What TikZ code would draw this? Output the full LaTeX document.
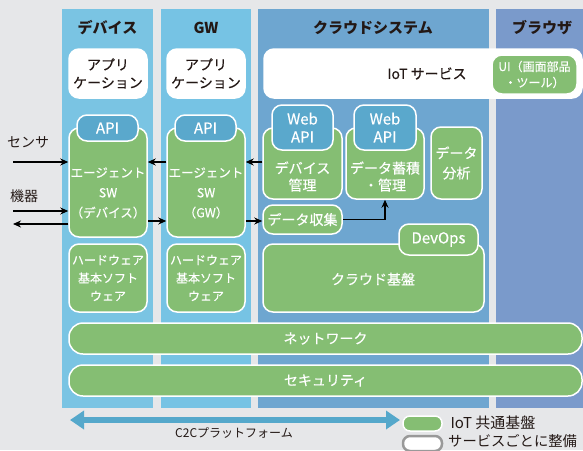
\documentclass[tikz,border=0pt]{standalone}
\usepackage{fontspec}
\setmainfont{Noto Sans CJK JP}
\newfontfamily\medfont{Noto Sans CJK JP}[FakeBold=0.35]
\usetikzlibrary{arrows.meta}
\definecolor{bgc}{HTML}{E6E7E9}
\definecolor{colDev}{HTML}{7AC4E3}
\definecolor{colGW}{HTML}{76C3E4}
\definecolor{colCloud}{HTML}{6EA6D0}
\definecolor{colBrow}{HTML}{7A9ACB}
\definecolor{grn}{HTML}{85BE73}
\definecolor{tabb}{HTML}{5AA8CC}
\definecolor{ink}{HTML}{231815}
\definecolor{c2cblue}{HTML}{55A8CB}
\tikzset{
  col/.style={draw=none, inner sep=0pt},
  head/.style={text=ink, font=\fontsize{15}{18}\selectfont\bfseries},
  wbox/.style={fill=white, draw=white, line width=1.5pt, rounded corners=10pt, inner sep=0pt, text=ink, align=center},
  gbox/.style={fill=grn, draw=white, line width=1.5pt, rounded corners=10pt, inner sep=0pt, text=white, align=center},
  tabbox/.style={fill=tabb, draw=white, line width=1.5pt, rounded corners=10pt, inner sep=0pt, text=white, align=center},
  wtxt/.style={text=white, align=center, inner sep=0pt},
  f14/.style={font=\medfont\fontsize{14}{18}\selectfont},
  f12/.style={font=\fontsize{12}{17}\selectfont},
  arr/.style={draw=black, line width=1.6pt, -{Stealth[length=8pt,width=7pt]}},
  c2c/.style={draw=c2cblue, line width=6pt, {Triangle[length=14pt,width=18pt]}-{Triangle[length=14pt,width=18pt]}},
}
\begin{document}
\begin{tikzpicture}[x=1pt,y=-1pt]
\useasboundingbox (0,0) rectangle (583,450);
\fill[bgc] (0,0) rectangle (583,450);

% columns
\node[col, fill=colDev, minimum width=91, minimum height=399] (colD) at (107.5,208.5) {};
\node[col, fill=colGW, minimum width=90, minimum height=399] (colG) at (206,208.5) {};
\node[col, fill=colCloud, minimum width=231, minimum height=399] (colC) at (373.5,208.5) {};
\node[col, fill=colBrow, minimum width=94, minimum height=399] (colB) at (543,208.5) {};

\node[head] (hD) at (107.5,28) {デバイス};
\node[head] (hG) at (206,28) {GW};
\node[head] (hC) at (373,28) {クラウドシステム};
\node[head] (hB) at (542,28) {ブラウザ};

% application boxes
\node[wbox, f14, minimum width=78, minimum height=49] (appD) at (108,73.5) {アプリ\\ケーション};
\node[wbox, f14, minimum width=78, minimum height=49] (appG) at (206,73.5) {アプリ\\ケーション};
\node[wbox, minimum width=318, minimum height=49] (iot) at (423,73.5) {};
\node[f14, text=ink] (iott) at (427,73.5) {IoT サービス};
\node[gbox, font=\medfont\fontsize{12}{16}\selectfont, minimum width=85, minimum height=39] (ui) at (534.5,74.5) {UI（画面部品\\・ツール）};

% agent boxes
\node[gbox, minimum width=78, minimum height=109] (agentD) at (108,182.5) {};
\node[wtxt, font=\medfont\fontsize{12.5}{20}\selectfont] (agentDt) at (108,193) {エージェント\\SW\\（デバイス）};
\node[tabbox, font=\medfont\fontsize{15}{16}\selectfont, minimum width=61, minimum height=26] (apiD) at (107.5,128) {API};
\node[gbox, minimum width=78, minimum height=109] (agentG) at (206,182.5) {};
\node[wtxt, font=\medfont\fontsize{12.5}{20}\selectfont] (agentGt) at (206,193) {エージェント\\SW\\（GW）};
\node[tabbox, font=\medfont\fontsize{15}{16}\selectfont, minimum width=61, minimum height=26] (apiG) at (205.5,128) {API};

% hardware
\node[gbox, font=\medfont\fontsize{12}{18}\selectfont, minimum width=78, minimum height=68] (hwD) at (108,278) {ハードウェア\\基本ソフト\\ウェア};
\node[gbox, font=\medfont\fontsize{12}{18}\selectfont, minimum width=78, minimum height=68] (hwG) at (206,278) {ハードウェア\\基本ソフト\\ウェア};

% cloud
\node[gbox, minimum width=79, minimum height=71] (devM) at (302.5,163.5) {};
\node[wtxt, font=\medfont\fontsize{14}{17}\selectfont] (devMt) at (302.5,176.5) {デバイス\\管理};
\node[tabbox, font=\medfont\fontsize{15}{18}\selectfont, minimum width=61, minimum height=45] (webA) at (302.5,127.5) {Web\\API};
\node[gbox, minimum width=78, minimum height=71] (store) at (385,163.5) {};
\node[wtxt, font=\medfont\fontsize{14}{17}\selectfont] (storet) at (385,176.5) {データ蓄積\\・管理};
\node[tabbox, font=\medfont\fontsize{15}{18}\selectfont, minimum width=62, minimum height=45] (webB) at (385,127.5) {Web\\API};
\node[gbox, font=\medfont\fontsize{14}{20}\selectfont, minimum width=51, minimum height=72] (anal) at (456.5,163) {データ\\分析};
\node[gbox, f14, minimum width=79, minimum height=29] (dataC) at (302.5,219.5) {データ収集};
\node[gbox, minimum width=221, minimum height=68] (base) at (373.5,278) {};
\node[wtxt, f14] (baset) at (373,279) {クラウド基盤};
\node[gbox, font=\medfont\fontsize{15}{18}\selectfont, minimum width=79, minimum height=31] (devops) at (438.5,239.5) {DevOps};

% network / security
\node[gbox, f14, rounded corners=14pt, minimum width=513, minimum height=31] (net) at (325.5,338.5) {ネットワーク};
\node[gbox, f14, rounded corners=14pt, minimum width=513, minimum height=31] (sec) at (325.5,380.5) {セキュリティ};

% left labels and arrows
\node[font=\fontsize{14}{18}\selectfont, text=ink] (sens) at (28,142) {センサ};
\node[font=\fontsize{14}{18}\selectfont, text=ink] (kiki) at (24,196) {機器};
\coordinate (s1) at (13,162);
\coordinate (s2) at (13,211);
\coordinate (s3) at (13,224);
\draw[arr] (s1) -- (s1 -| agentD.west);
\draw[arr] (s2) -- (s2 -| agentD.west);
\draw[arr] (s3 -| agentD.west) -- (s3);

\coordinate (yA) at (0,162);
\coordinate (yB) at (0,221);
\draw[arr] (agentG.west |- yA) -- (agentD.east |- yA);
\draw[arr] (agentD.east |- yB) -- (agentG.west |- yB);
\draw[arr] (devM.west |- yA) -- (agentG.east |- yA);
\draw[arr] (agentG.east |- yB) -- (dataC.west |- yB);
\draw[arr] (dataC.east) -| (store.south);

% C2C arrow
\coordinate (c2cL) at (70,420);
\coordinate (c2cR) at (400,420);
\draw[c2c] (c2cL) -- (c2cR);
\node[f12, text=ink] (c2ct) at (234,433) {C2Cプラットフォーム};

% legend
\node[gbox, rounded corners=7pt, minimum width=39, minimum height=15] (legG) at (422.5,423.5) {};
\node[font=\fontsize{15}{18}\selectfont, text=ink, anchor=west] (legGt) at (447,423) {IoT 共通基盤};
\node[fill=white, draw=gray!80, line width=2.5pt, rounded corners=7pt, minimum width=39, minimum height=15, inner sep=0pt] (legW) at (422.5,443.5) {};
\node[font=\fontsize{14.3}{17}\selectfont, text=ink, anchor=west, inner sep=0pt] (legWt) at (448,441.5) {サービスごとに整備};
\end{tikzpicture}
\end{document}
